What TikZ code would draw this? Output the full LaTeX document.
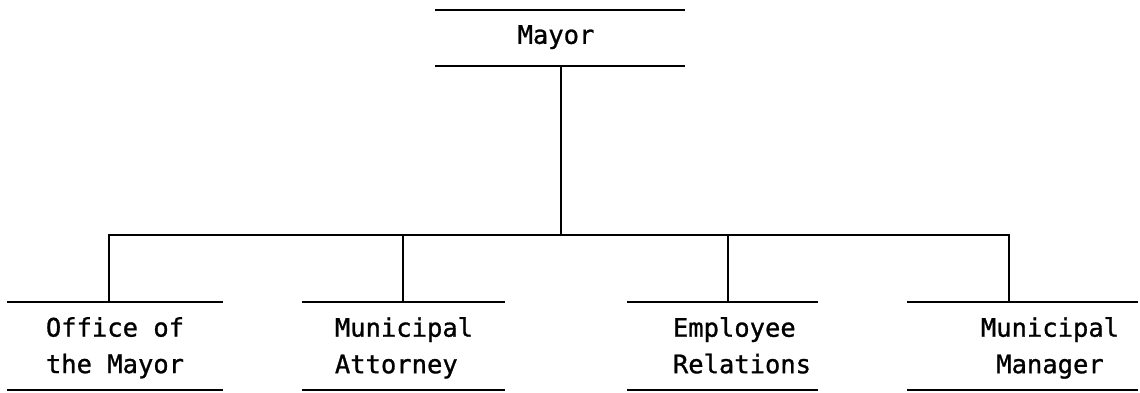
\documentclass[tikz,border=0pt]{standalone}
\usepackage{fontspec}
\setmonofont[FakeBold=1]{DejaVu Sans Mono}
\begin{document}
\begin{tikzpicture}[x=1pt,y=-1pt,
  frame/.style={rectangle,draw=none,inner sep=0pt,minimum width=#1},
  lbl/.style={inner sep=0pt,anchor=north,font=\ttfamily\fontsize{25.5}{36.5}\selectfont},
  rule/.style={line width=1.7pt},
  wire/.style={line width=1.5pt}]
\useasboundingbox (0,0) rectangle (1140,393);
% boxes (frames)
\node[frame=250,minimum height=56] (mayor) at (560,38) {};
\node[frame=216,minimum height=88] (b1) at (115,346) {};
\node[frame=203,minimum height=88] (b2) at (403.5,346) {};
\node[frame=191,minimum height=88] (b3) at (722.5,346) {};
\node[frame=231,minimum height=88] (b4) at (1022.5,346) {};
% texts
\node[lbl] (tm) at (556,25) {Mayor};
\node[lbl,align=center] (t1) at (115,317) {Office of\\the Mayor};
\node[lbl,align=left] (t2) at (404,317) {Municipal\\Attorney};
\node[lbl,align=left] (t3) at (742,317) {Employee\\Relations};
\node[lbl,align=center] (t4) at (1050,317) {Municipal\\Manager};
% rules
\foreach \n in {mayor,b1,b2,b3,b4}{
  \draw[rule] (\n.north west) -- (\n.north east);
  \draw[rule] (\n.south west) -- (\n.south east);
}
% connectors
\coordinate (bus) at (561,235);
\draw[wire] ([xshift=1pt]mayor.south) -- (bus);
\draw[wire] ([xshift=-6pt]b1.north) -- ([xshift=-6pt]b1.north |- bus) -- ([xshift=-13.5pt]b4.north |- bus) -- ([xshift=-13.5pt]b4.north);
\draw[wire] ([xshift=-0.5pt]b2.north) -- ([xshift=-0.5pt]b2.north |- bus);
\draw[wire] ([xshift=5.5pt]b3.north) -- ([xshift=5.5pt]b3.north |- bus);
\end{tikzpicture}
\end{document}
